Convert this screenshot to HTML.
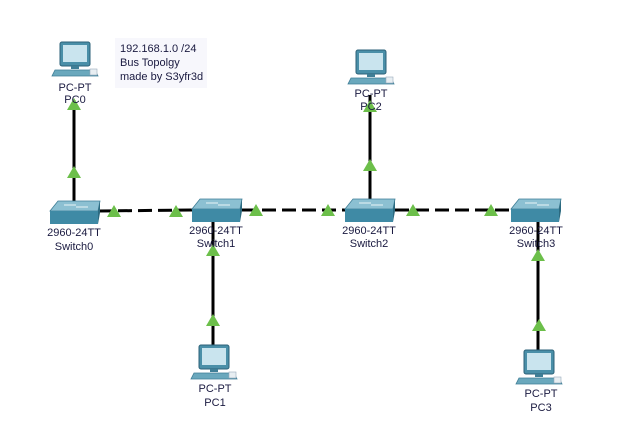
<!DOCTYPE html>
<html><head><meta charset="utf-8"><style>
html,body{margin:0;padding:0;background:#fff;}
svg{display:block;}
text{font-family:"Liberation Sans",sans-serif;font-size:11px;fill:#1a1a40;text-anchor:middle;}
</style></head><body>
<svg width="634" height="447" viewBox="0 0 634 447" xmlns="http://www.w3.org/2000/svg">
<defs>
<g id="pc">
 <rect x="0" y="0" width="30" height="24" rx="2" fill="#4a8fa8" stroke="#2c6278"/>
 <rect x="3" y="3" width="24" height="17" fill="#c9e4ee"/>
 <rect x="11" y="24" width="8" height="3" fill="#3f7e96"/>
 <polygon points="-5,28 35,28 38,34 -8,34" fill="#6aa8bd" stroke="#3f7e96" stroke-width="0.8"/>
 <rect x="30" y="27" width="7" height="6" fill="#e8eef2" stroke="#9ab" stroke-width="0.6"/>
</g>
<g id="sw">
 <polygon points="8,0 50,0 48,10 0,10" fill="#8cc0d2" stroke="#3f7e96" stroke-width="0.8"/>
 <rect x="0" y="10" width="48" height="13" fill="#3f8aa5"/>
 <polygon points="48,10 50,0 50,12 48,23" fill="#2c6a80"/>
 <line x1="14" y1="4" x2="26" y2="4" stroke="#fff" stroke-width="0.8"/>
 <line x1="26" y1="6" x2="38" y2="6" stroke="#fff" stroke-width="0.8"/>
</g>
<polygon id="tri" points="0,-6 7,6 -7,6" fill="#6cbf4a"/>
</defs>
<g stroke="#000" stroke-width="3">
 <line x1="74" y1="100" x2="74" y2="205"/>
 <line x1="370" y1="95" x2="370" y2="205"/>
 <line x1="213" y1="215" x2="213" y2="348"/>
 <line x1="538" y1="215" x2="538" y2="352"/>
</g>
<g stroke="#000" stroke-width="3" stroke-dasharray="14,6">
 <line x1="98" y1="211" x2="192" y2="210"/>
 <line x1="242" y1="210" x2="345" y2="210"/>
 <line x1="395" y1="210" x2="511" y2="210"/>
</g>
<rect x="115" y="38" width="92" height="50" fill="#f7f7fc"/>
<text x="120" y="52" style="text-anchor:start">192.168.1.0 /24</text>
<text x="120" y="66" style="text-anchor:start">Bus Topolgy</text>
<text x="120" y="80" style="text-anchor:start">made by S3yfr3d</text>
<use href="#pc" x="60" y="42"/>
<use href="#pc" x="356" y="50"/>
<use href="#pc" x="199" y="345"/>
<use href="#pc" x="524" y="350"/>
<use href="#sw" x="50" y="201"/>
<use href="#sw" x="192" y="199"/>
<use href="#sw" x="345" y="199"/>
<use href="#sw" x="511" y="199"/>
<use href="#tri" x="74" y="172"/>
<use href="#tri" x="74" y="104"/>
<use href="#tri" x="370" y="165"/>
<use href="#tri" x="370" y="106"/>
<use href="#tri" x="114" y="211"/>
<use href="#tri" x="176" y="211"/>
<use href="#tri" x="256" y="210"/>
<use href="#tri" x="328" y="210"/>
<use href="#tri" x="413" y="210"/>
<use href="#tri" x="491" y="210"/>
<use href="#tri" x="213" y="250"/>
<use href="#tri" x="213" y="320"/>
<use href="#tri" x="538" y="255"/>
<use href="#tri" x="539" y="325"/>
<text x="75" y="91">PC-PT</text><text x="75" y="103">PC0</text>
<text x="371" y="97">PC-PT</text><text x="371" y="110">PC2</text>
<text x="215" y="392">PC-PT</text><text x="215" y="406">PC1</text>
<text x="541" y="397">PC-PT</text><text x="541" y="411">PC3</text>
<text x="74" y="236">2960-24TT</text><text x="74" y="250">Switch0</text>
<text x="216" y="234">2960-24TT</text><text x="216" y="247">Switch1</text>
<text x="369" y="234">2960-24TT</text><text x="369" y="247">Switch2</text>
<text x="536" y="234">2960-24TT</text><text x="536" y="247">Switch3</text>
</svg>
</body></html>
